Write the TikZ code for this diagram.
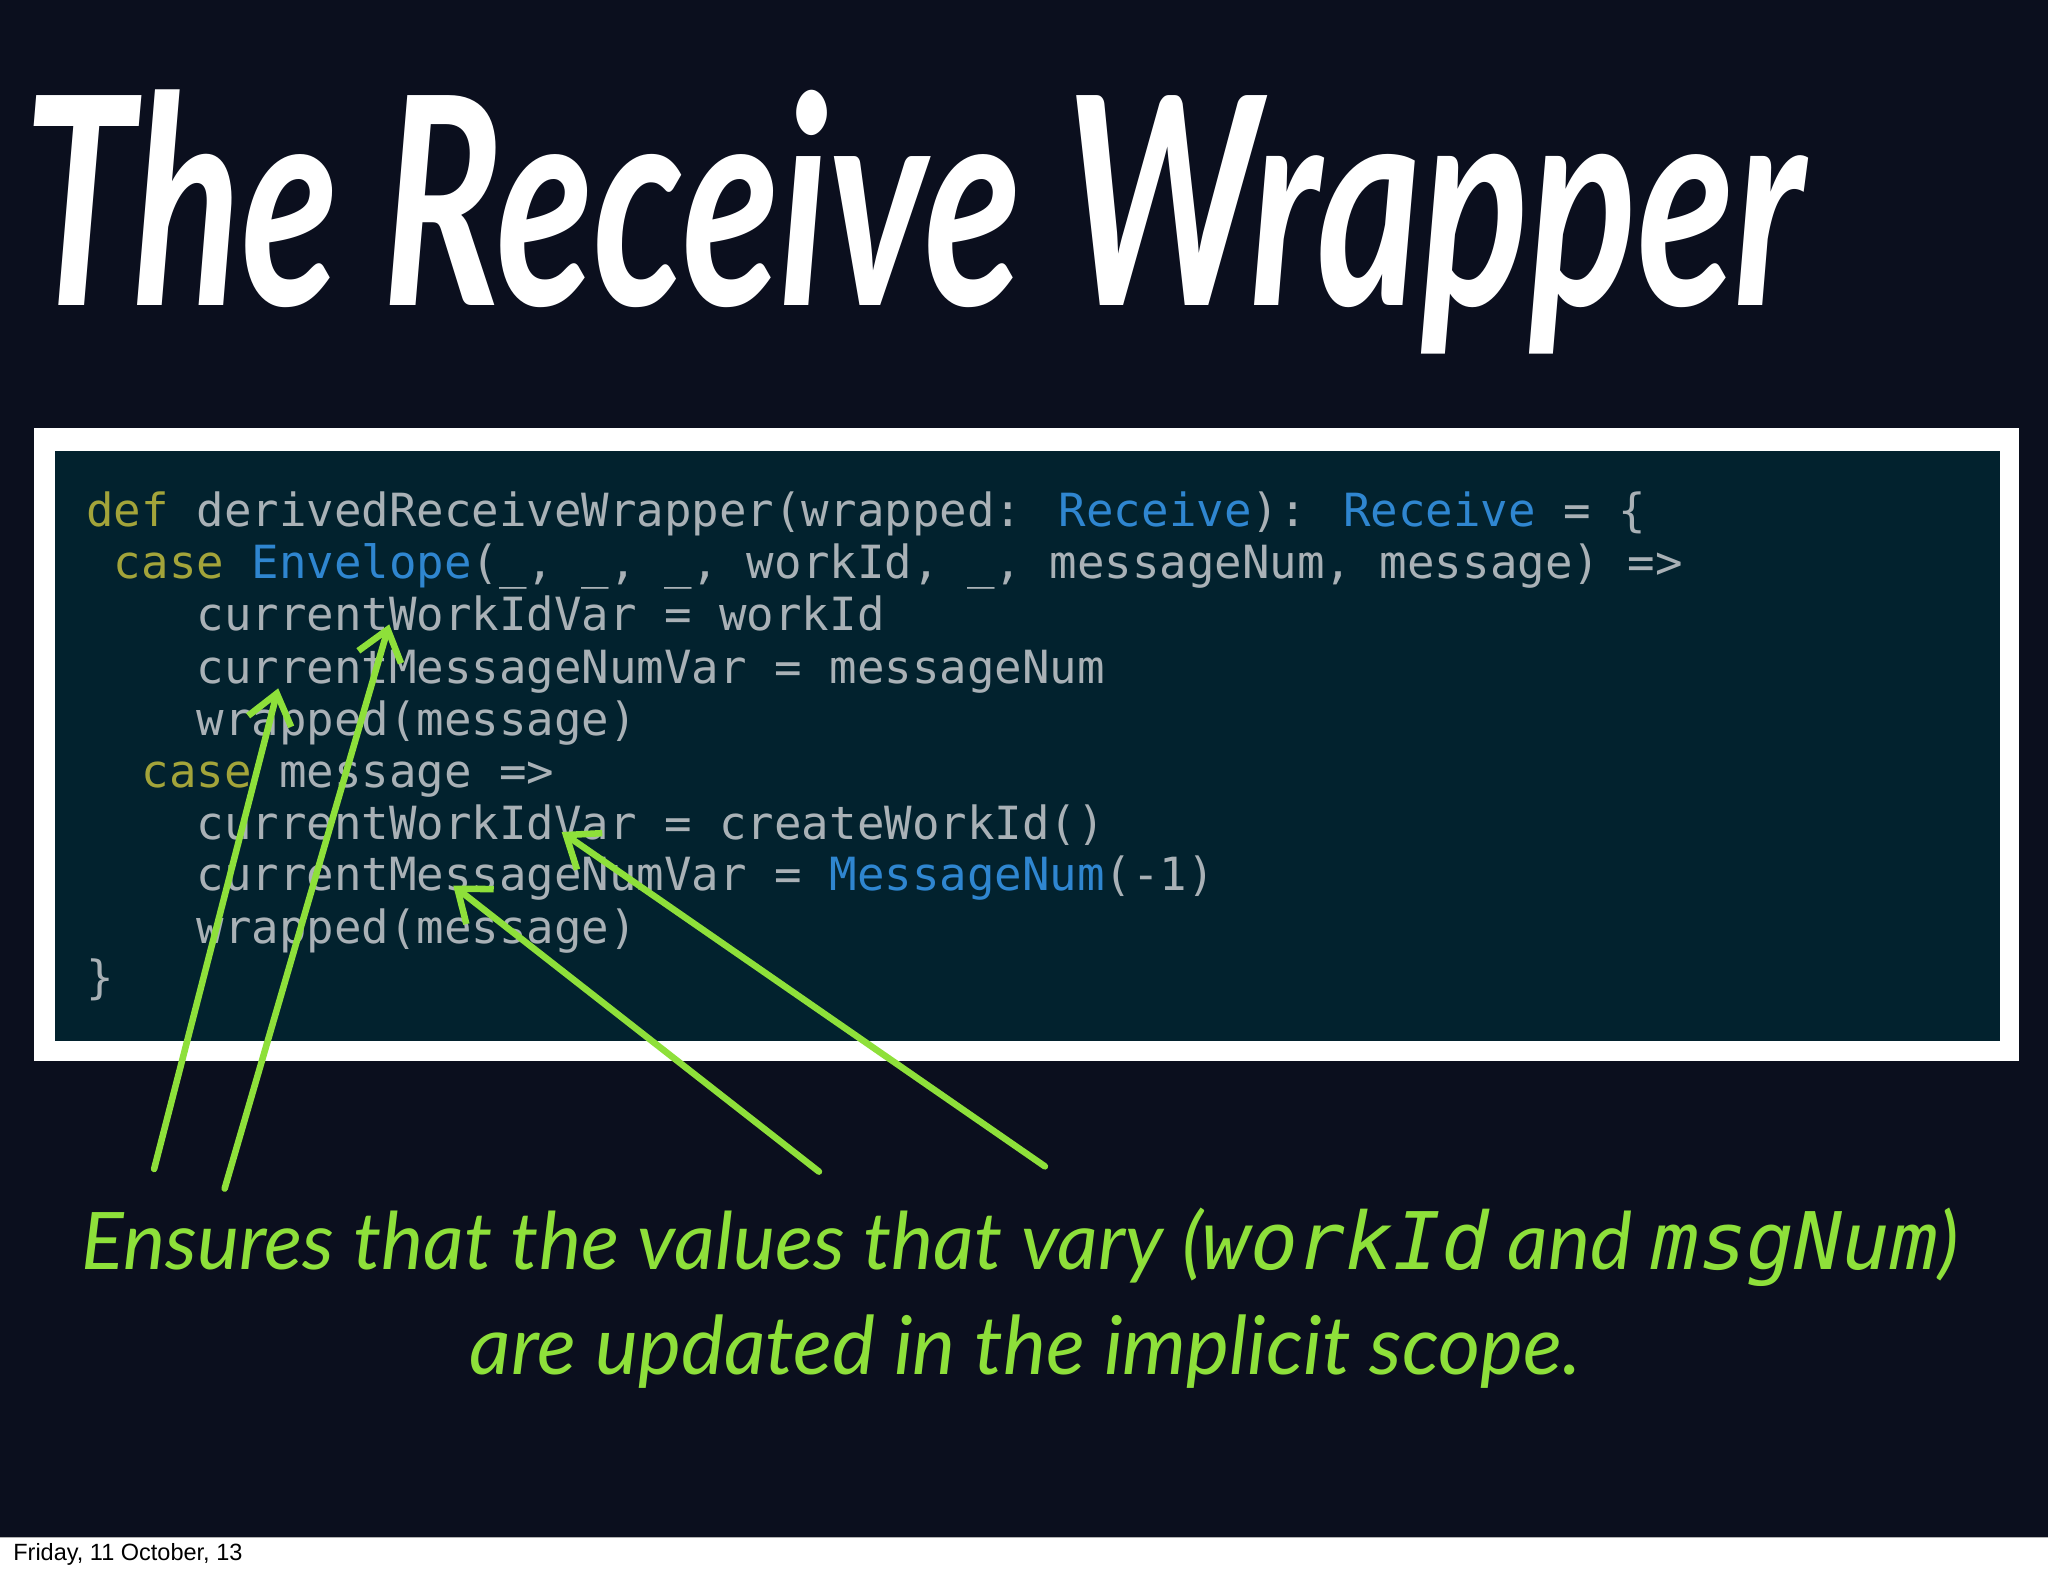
\documentclass[tikz,border=0pt]{standalone}
\usepackage{fontspec}
\usetikzlibrary{arrows.meta}
\newfontfamily\codefont{DejaVu Sans Mono}
\newfontfamily\titlefont{Lato}
\newfontfamily\capfont{Lato}
\newfontfamily\footfont{Liberation Sans}
\definecolor{bgdark}{HTML}{0B0F1E}
\definecolor{codebg}{HTML}{02222E}
\definecolor{kw}{HTML}{A3A43A}
\definecolor{ty}{HTML}{2F86D0}
\definecolor{tx}{HTML}{A9B1B6}
\definecolor{grn}{HTML}{8EE03A}
\tikzset{
  codeline/.style={anchor=base west,inner sep=0pt,text=tx,font=\codefont\fontsize{35}{35}\selectfont},
  arr/.style={draw=grn,line width=5pt,line cap=round,-{Straight Barb[length=22pt,width=34pt,line width=5pt]}},
}
\newcommand{\K}[1]{\textcolor{kw}{#1}}
\newcommand{\T}[1]{\textcolor{ty}{#1}}
\begin{document}
\begin{tikzpicture}[x=1pt,y=-1pt]
\useasboundingbox (0,0) rectangle (1568,1207);
\fill[white] (0,0) rectangle (1568,1207);
\fill[bgdark] (0,0) rectangle (1568,1177);
\draw[gray!60] (0,1177) -- (1568,1177);
\node[anchor=west,inner sep=0pt,text=white] (title) at (18,170)
  {\resizebox{1362pt}{165pt}{\titlefont\bfseries\itshape The Receive Wrapper}};
\fill[white] (26,328) rectangle (1546,812);
\fill[codebg] (42,345) rectangle (1531,797);
\node[codeline] (l1) at (66,403) {\K{def} derivedReceiveWrapper(wrapped: \T{Receive}): \T{Receive} = \{};
\node[codeline] (l2) at (66,443) {\ \K{case} \T{Envelope}(\_, \_, \_, workId, \_, messageNum, message) =>};
\node[codeline] (l3) at (66,483) {\ \ \ \ currentWorkIdVar = workId};
\node[codeline] (l4) at (66,523) {\ \ \ \ currentMessageNumVar = messageNum};
\node[codeline] (l5) at (66,563) {\ \ \ \ wrapped(message)};
\node[codeline] (l6) at (66,603) {\ \ \K{case} message =>};
\node[codeline] (l7) at (66,643) {\ \ \ \ currentWorkIdVar = createWorkId()};
\node[codeline] (l8) at (66,682) {\ \ \ \ currentMessageNumVar = \T{MessageNum}(-1)};
\node[codeline] (l9) at (66,722) {\ \ \ \ wrapped(message)};
\node[codeline] (l10) at (66,761) {\}};
\coordinate (s1) at (118,895); \coordinate (e1) at (213,527);
\coordinate (s2) at (172,910); \coordinate (e2) at (298,478);
\coordinate (s3) at (627,897); \coordinate (e3) at (347,678);
\coordinate (s4) at (800,893); \coordinate (e4) at (430,637);
\draw[arr] (s1) -- (e1);
\draw[arr] (s2) -- (e2);
\draw[arr] (s3) -- (e3);
\draw[arr] (s4) -- (e4);
\node[anchor=center,inner sep=0pt,text=grn] (cap1) at (781,955)
  {\resizebox{1437pt}{!}{\capfont\itshape Ensures that the values that vary ({\codefont workId} and {\codefont msgNum})}};
\node[anchor=center,inner sep=0pt,text=grn] (cap2) at (785,1035)
  {\resizebox{850pt}{!}{\capfont\itshape are updated in the implicit scope.}};
\node[anchor=west,inner sep=0pt] (foot) at (10,1190) {\footfont\fontsize{18}{18}\selectfont Friday, 11 October, 13};
\end{tikzpicture}
\end{document}
